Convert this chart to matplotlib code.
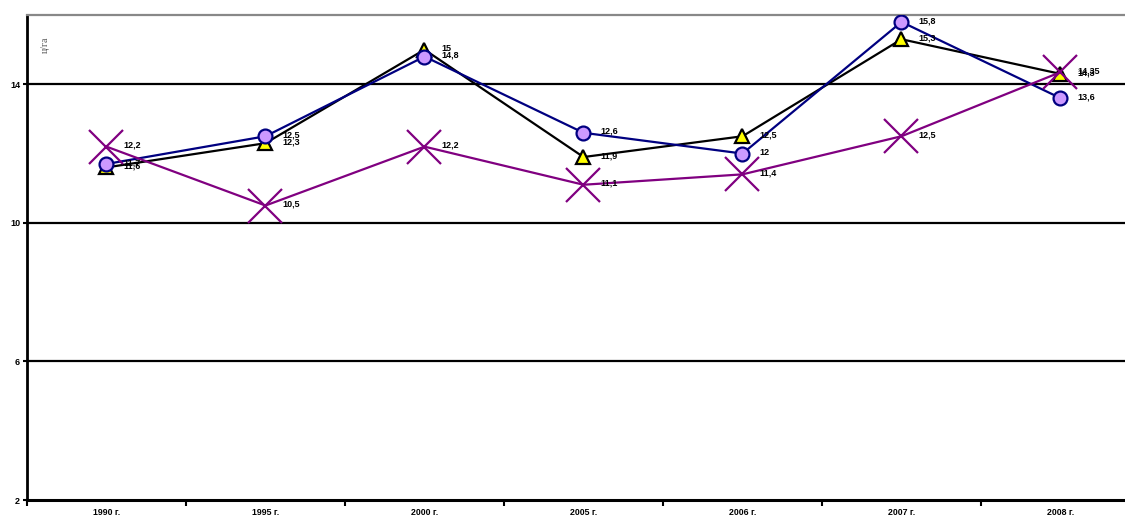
import matplotlib.pyplot as plt
import numpy as np

# Урожайность по годам, ц/га
years = ['1990 г.', '1995 г.', '2000 г.', '2005 г.', '2006 г.', '2007 г.', '2008 г.']
series_black = [11.6, 12.3, 15.0, 11.9, 12.5, 15.3, 14.3]
series_blue = [11.7, 12.5, 14.8, 12.6, 12.0, 15.8, 13.6]
series_purple = [12.2, 10.5, 12.2, 11.1, 11.4, 12.5, 14.35]
y_ticks = [2, 6, 10, 14]

plt.rcParams['font.family'] = ['Liberation Sans', 'DejaVu Sans']

fig = plt.figure(figsize=(11.25, 5.19), dpi=100)
# ось немного уходит за правый край рисунка
ax = fig.add_axes([27 / 1125, 19 / 519, 1113 / 1125, 485 / 519])

x = np.arange(len(years))

for yv in y_ticks[1:]:
    ax.axhline(yv, color='black', lw=1.6, zorder=1)

ax.plot(x, series_black, color='black', lw=1.6, marker='^', markersize=10,
        markerfacecolor='#FFFF00', markeredgecolor='black', markeredgewidth=1.6, zorder=3)
ax.plot(x, series_blue, color='#000080', lw=1.6, marker='o', markersize=10,
        markerfacecolor='#CC99FF', markeredgecolor='#000080', markeredgewidth=1.6, zorder=4)
ax.plot(x, series_purple, color='#800080', lw=1.6, marker='x', markersize=24,
        markeredgewidth=1.6, zorder=5)

def fmt(v):
    s = ('%g' % v).replace('.', ',')
    return s

for data in (series_black, series_blue, series_purple):
    for xi, v in zip(x, data):
        ax.annotate(fmt(v), (xi, v), xytext=(12, 1), textcoords='offset points',
                    fontsize=6.5, fontweight='bold', va='center', ha='left', zorder=6)

ax.set_xlim(-0.5, len(years) - 0.5)
ax.set_ylim(2, 16)
ax.set_yticks(y_ticks)
ax.set_yticklabels([str(v) for v in y_ticks], fontsize=6.5, fontweight='bold')
ax.set_xticks(x)
ax.set_xticklabels(years, fontsize=6.3, fontweight='bold')
ax.tick_params(axis='x', which='major', length=0, pad=6)
ax.set_xticks(np.arange(len(years) + 1) - 0.5, minor=True)
ax.tick_params(axis='x', which='minor', length=4, width=1.5, direction='out')
ax.tick_params(axis='y', length=3, width=1.5, direction='out', pad=2)

ax.spines['left'].set_linewidth(2)
ax.spines['bottom'].set_linewidth(2.2)
ax.spines['top'].set_color('#888888')
ax.spines['top'].set_linewidth(1.6)
ax.spines['right'].set_visible(False)

ax.text(0.012, 0.938, 'ц/га', transform=ax.transAxes, rotation=90, fontsize=7,
        color='#555555', family=['Liberation Serif', 'DejaVu Serif'], va='center')

fig.savefig('out.png', dpi=100, facecolor='white')
